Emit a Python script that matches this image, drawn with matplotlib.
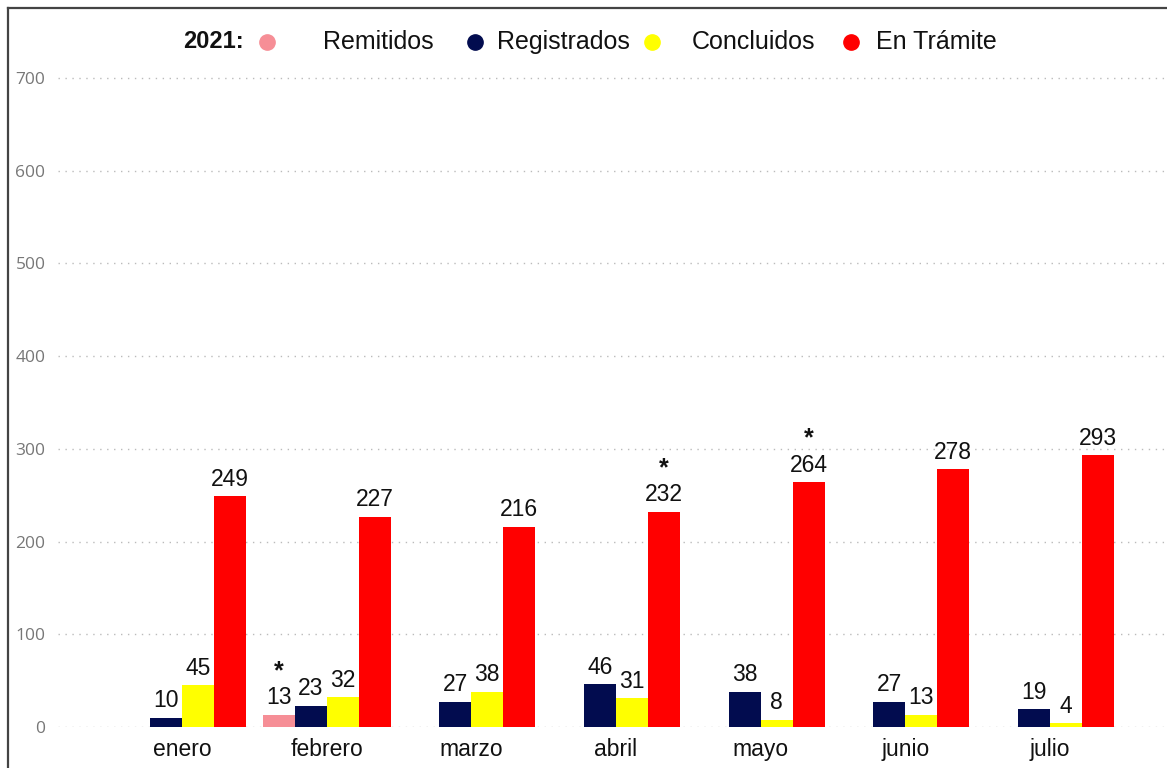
import matplotlib
matplotlib.use("Agg")
import matplotlib.pyplot as plt
import numpy as np
from matplotlib.lines import Line2D

months = ["enero", "febrero", "marzo", "abril", "mayo", "junio", "julio"]
remitidos = [np.nan, 13, np.nan, np.nan, np.nan, np.nan, np.nan]
registrados = [10, 23, 27, 46, 38, 27, 19]
concluidos = [45, 32, 38, 31, 8, 13, 4]
en_tramite = [249, 227, 216, 232, 264, 278, 293]
series_names = ["Remitidos", "Registrados", "Concluidos", "En Trámite"]
year_label = "2021:"
yticks = [0, 100, 200, 300, 400, 500, 600, 700]
# asterisks: (series index, month index)
asterisks = [(0, 1), (3, 3), (3, 4)]

colors = ["#F68E96", "#020C4F", "#FFFF00", "#FF0000"]
series = [remitidos, registrados, concluidos, en_tramite]

W, H = 1167, 768
fig = plt.figure(figsize=(W / 100, H / 100), dpi=100)
ax_left = 58 / W
ax_bottom = (H - 727) / H
ax_top = (H - 20) / H
ax = fig.add_axes([ax_left, ax_bottom, 1 - ax_left, ax_top - ax_bottom])
px_per_unit = (727 - 78) / 700
ymax = (727 - 20) / px_per_unit
ax.set_ylim(0, ymax)
ax.set_xlim(-0.857, 6.809)

bw = 32 / 144.67
x = np.arange(len(months))
offsets = [-1.5 * bw, -0.5 * bw, 0.5 * bw, 1.5 * bw]
label_font = dict(family=["Liberation Sans", "DejaVu Sans"], size=16.5, color="#111111")
for i, (vals, c, off) in enumerate(zip(series, colors, offsets)):
    vals = np.array(vals, dtype=float)
    bars = ax.bar(x + off, np.nan_to_num(vals), width=bw, color=c, zorder=3)
    labels = ["" if np.isnan(v) else f"{int(v)}" for v in vals]
    ax.bar_label(bars, labels=labels, padding=4, zorder=4, **label_font)

for si, mi in asterisks:
    v = series[si][mi]
    ax.annotate("*", xy=(x[mi] + offsets[si], v), xytext=(0, 23), textcoords="offset points",
                ha="center", va="bottom", fontsize=18, fontweight="bold",
                family=["Liberation Sans", "DejaVu Sans"], color="#111111")

ax.set_yticks(yticks)
ax.set_yticklabels([str(t) for t in yticks], family=["Open Sans", "DejaVu Sans"], fontsize=12.5, color="#777777")
ax.tick_params(axis="y", length=0, pad=9)
ax.set_xticks(x)
ax.set_xticklabels(months, family=["Liberation Sans", "DejaVu Sans"], fontsize=16.5, color="#111111")
ax.tick_params(axis="x", length=0, pad=8)
ax.grid(axis="y", linestyle=(0, (1, 4)), color="#BBBBBB", linewidth=1, zorder=0)
for s in ax.spines.values():
    s.set_visible(False)
ax.set_facecolor("none")

# frame lines
fig.add_artist(Line2D([8 / W, 8 / W], [0, 1 - 8 / H], color="#444444", linewidth=1.6, transform=fig.transFigure))
fig.add_artist(Line2D([8 / W, 1], [1 - 8 / H, 1 - 8 / H], color="#444444", linewidth=1.6, transform=fig.transFigure))

# legend
ly = 1 - 42 / H
fig.text(183 / W, ly, year_label, fontsize=17, fontweight="bold", family=["Liberation Sans", "DejaVu Sans"],
         ha="left", va="center", color="#111111")
dot_x = [267, 475, 652, 851]
text_x = [323, 497, 692, 876]
for c, dx, tx, name in zip(colors, dot_x, text_x, series_names):
    fig.add_artist(Line2D([dx / W], [ly], marker="o", markersize=11, color=c, linestyle="none",
                          transform=fig.transFigure))
    fig.text(tx / W, ly, name, fontsize=18, family=["Liberation Sans", "DejaVu Sans"],
             ha="left", va="center", color="#111111")

fig.savefig("out.png", dpi=100)
